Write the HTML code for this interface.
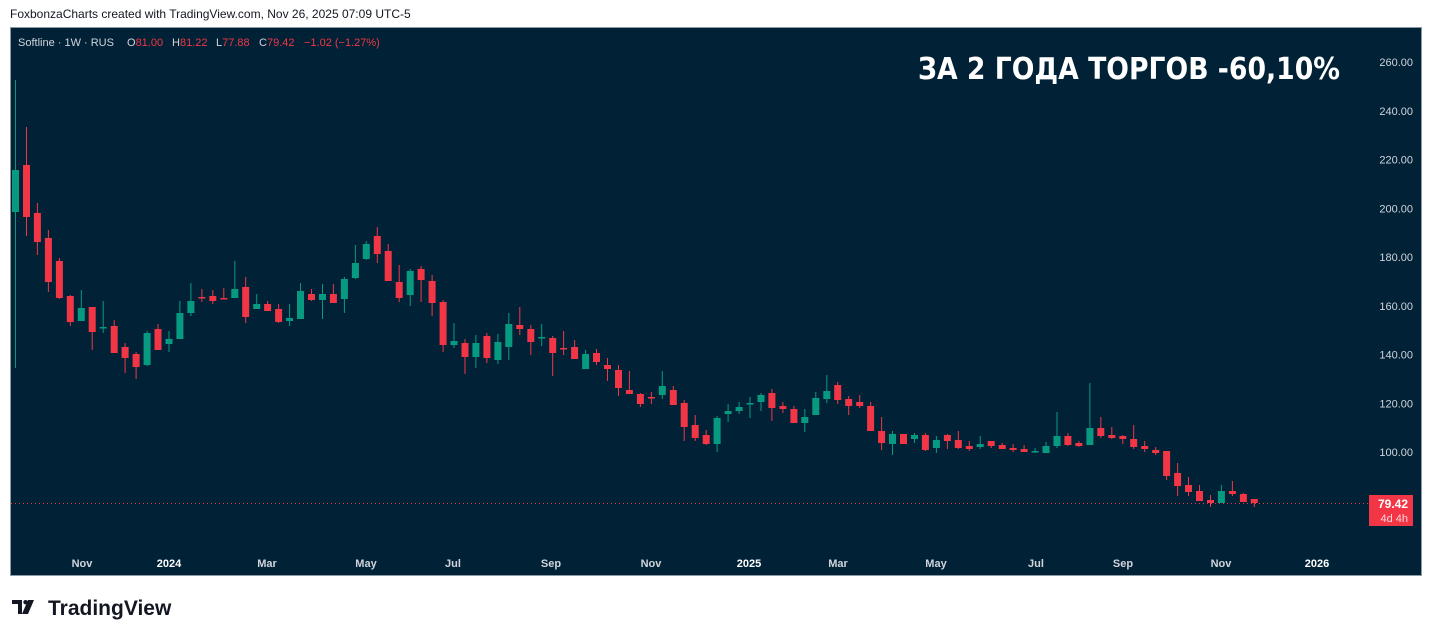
<!DOCTYPE html>
<html><head><meta charset="utf-8"><style>
html,body{margin:0;padding:0;background:#fff;width:1433px;height:638px;overflow:hidden;font-family:"Liberation Sans",sans-serif}
.hdr{position:absolute;left:10px;top:7px;font-size:12px;color:#131722}
.box{position:absolute;left:10px;top:27px;width:1412px;height:549px;background:#012236;border:1px solid #8b9aa6;box-sizing:border-box}
</style></head><body>
<div class="hdr">FoxbonzaCharts created with TradingView.com, Nov 26, 2025 07:09 UTC-5</div>
<div class="box"></div>
<svg id="s" width="1433" height="638" style="position:absolute;left:0;top:0" xmlns="http://www.w3.org/2000/svg">
<g font-family="Liberation Sans, sans-serif">
<text y="46" font-size="11" fill="#d1d4dc"><tspan x="18">Softline · 1W · RUS</tspan><tspan x="127">O</tspan><tspan fill="#f23645">81.00</tspan><tspan x="172">H</tspan><tspan fill="#f23645">81.22</tspan><tspan x="216">L</tspan><tspan fill="#f23645">77.88</tspan><tspan x="259">C</tspan><tspan fill="#f23645">79.42</tspan><tspan x="304" fill="#f23645">−1.02 (−1.27%)</tspan></text>
<text x="918" y="79" font-size="30" font-weight="bold" fill="#ffffff" font-family="DejaVu Sans, sans-serif" textLength="422" lengthAdjust="spacingAndGlyphs">ЗА 2 ГОДА ТОРГОВ -60,10%</text>
<g id="yl" font-size="11" fill="#d1d4dc" text-anchor="end"></g>
<g id="xl" font-size="11" fill="#d1d4dc" font-weight="bold" text-anchor="middle"></g>
<line x1="11" y1="503.5" x2="1368" y2="503.5" stroke="#f23645" stroke-width="1" stroke-dasharray="1,3"/>
<g id="c"></g>
<rect x="1369" y="495" width="44" height="31" fill="#f23645"/>
<text x="1408" y="508" font-size="12" fill="#fff" text-anchor="end" font-weight="bold">79.42</text>
<text x="1408" y="522" font-size="11" fill="#ffd6da" text-anchor="end">4d 4h</text>
</g>
<g transform="translate(12,600)" fill="#131722">
<path d="M0 0h10v14h-4v-10h-6z"/><circle cx="13.5" cy="2.2" r="2.2"/><path d="M16 0h6l-6 14h-6z"/>
</g>
<text x="48" y="615" font-size="21" font-weight="bold" fill="#131722" font-family="Liberation Sans, sans-serif">TradingView</text>
</svg>
<script>
var d=[[80,170,212,368,1],[127,165,217,236,0],[203,213,242,255,0],[230,238,282,292,0],[258,261,298,299,0],[295,296,322,326,0],[290,308,321,321,1],[307,307,332,350,0],[301,327,328,333,1],[320,326,353,353,0],[343,347,358,373,0],[352,354,367,379,0],[331,333,365,366,1],[324,329,350,350,0],[331,339,344,352,1],[301,313,339,339,1],[283,301,313,316,1],[289,297,298,302,0],[290,296,301,304,0],[288,298,299,299,0],[261,289,298,298,1],[277,287,317,323,0],[294,304,309,309,1],[301,304,311,311,0],[304,309,322,323,0],[304,318,321,326,1],[283,291,319,319,1],[289,294,300,301,0],[284,294,300,319,1],[284,294,303,303,0],[277,279,299,313,1],[245,263,278,279,1],[241,244,259,260,1],[227,236,254,263,0],[244,251,281,281,0],[265,282,298,302,0],[269,271,295,306,1],[266,269,280,302,0],[275,281,303,316,0],[300,302,345,352,0],[323,341,345,348,1],[339,343,357,374,0],[335,343,357,368,1],[333,336,358,363,0],[334,342,360,364,1],[313,324,347,360,1],[307,325,329,335,0],[325,329,342,355,0],[324,337,338,346,1],[336,338,353,376,0],[331,348,349,355,0],[340,347,359,359,0],[350,354,369,369,1],[349,353,362,365,0],[358,365,369,381,0],[365,370,388,396,0],[371,390,394,394,0],[393,394,404,407,0],[392,397,398,404,0],[371,386,395,399,1],[386,390,405,405,0],[400,403,427,441,0],[415,425,438,441,0],[430,435,444,445,0],[416,418,444,452,1],[404,411,414,422,1],[402,407,411,414,1],[397,403,404,418,1],[393,395,402,411,1],[389,393,408,421,0],[402,406,409,413,0],[406,409,423,423,0],[409,417,423,432,1],[392,398,415,415,1],[375,391,399,403,1],[382,385,400,404,0],[396,399,406,415,0],[395,402,406,408,0],[402,406,431,431,0],[417,431,443,450,0],[431,434,444,455,1],[434,434,444,444,0],[433,435,439,443,1],[433,435,450,451,0],[436,440,448,453,1],[434,435,441,449,0],[431,440,448,449,0],[441,446,449,451,0],[436,444,447,449,1],[441,441,446,448,0],[443,445,449,449,0],[444,448,450,452,0],[445,449,452,452,0],[448,451,452,453,1],[442,446,453,453,1],[412,436,446,448,1],[433,436,445,446,0],[441,443,446,447,0],[383,428,445,445,1],[417,428,436,438,0],[427,435,438,439,0],[435,436,439,444,0],[425,439,447,449,0],[441,446,449,452,0],[447,450,453,455,0],[451,451,476,480,0],[463,473,486,496,0],[477,485,492,496,0],[485,491,501,501,0],[495,500,503,507,0],[485,491,503,503,1],[481,491,494,496,0],[493,494,502,502,0],[499,499,503,507,0]];
var g=document.getElementById("c"),h="";
d.forEach(function(c,i){var x=15.5+i*10.963,col=c[4]?"#089981":"#f23645";var bh=Math.max(c[2]-c[1],1.5);
h+='<line x1="'+x.toFixed(1)+'" x2="'+x.toFixed(1)+'" y1="'+c[0]+'" y2="'+c[3]+'" stroke="'+col+'" stroke-width="1"/>';
h+='<rect x="'+(x-3.5).toFixed(1)+'" y="'+c[1]+'" width="7" height="'+bh+'" fill="'+col+'"/>';});
g.innerHTML=h;
var yl="";for(var k=0;k<9;k++){yl+='<text x="1413" y="'+(66+k*48.75).toFixed(1)+'">'+(260-k*20)+'.00</text>';}
document.getElementById("yl").innerHTML=yl;
var xs=[[82,"Nov"],[169,"2024"],[267,"Mar"],[366,"May"],[453,"Jul"],[551,"Sep"],[651,"Nov"],[749,"2025"],[838,"Mar"],[936,"May"],[1036,"Jul"],[1123,"Sep"],[1221,"Nov"],[1317,"2026"]],xl="";
xs.forEach(function(a){xl+='<text x="'+a[0]+'" y="567"'+(/20/.test(a[1])?' fill="#fff"':'')+'>'+a[1]+'</text>';});
document.getElementById("xl").innerHTML=xl;
</script>
</body></html>
